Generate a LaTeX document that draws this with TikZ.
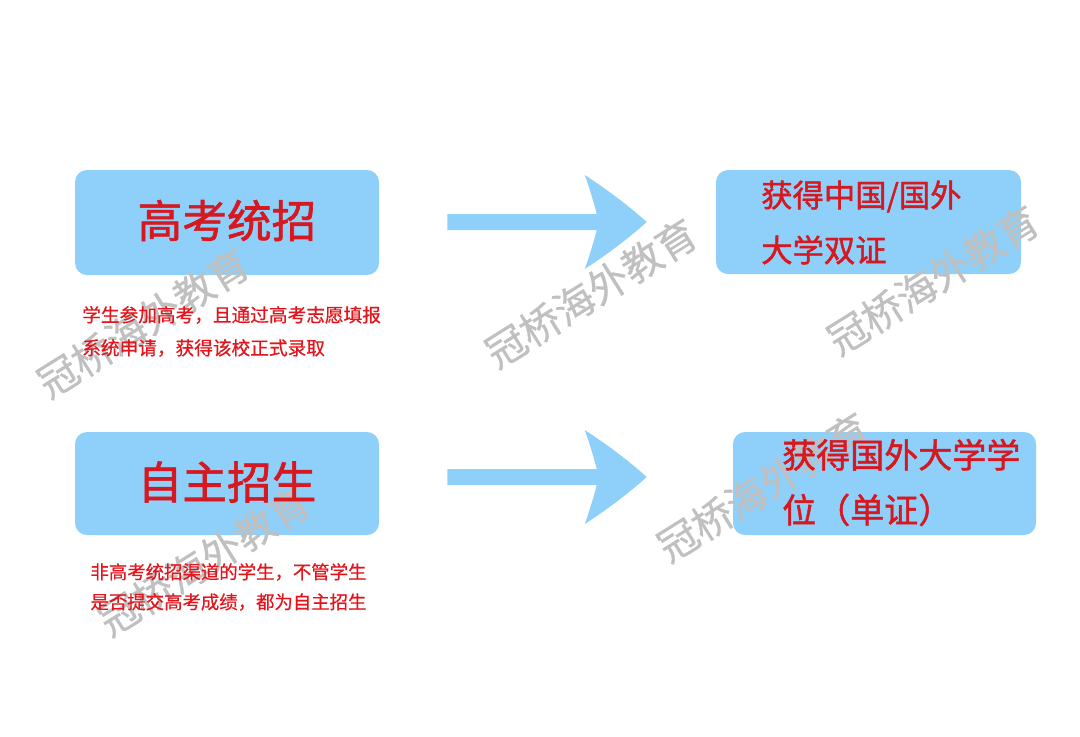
\documentclass[tikz,border=0pt]{standalone}
\usepackage{fontspec}
\setmainfont{Noto Sans CJK SC}
\newfontfamily\medfont[FakeBold=1.4]{Noto Sans CJK SC}
\newfontfamily\notefont[FakeBold=0.6]{Noto Sans CJK SC}
\usetikzlibrary{calc}
\definecolor{boxblue}{RGB}{142,208,250}
\definecolor{txtred}{RGB}{226,20,28}
\definecolor{titlered}{RGB}{214,24,32}
\definecolor{wmgray}{RGB}{192,192,192}
\newcommand\fatarrow[2]{%
  \fill[arrowfill] ($(#1)+(0,-8)$) -- ($(#2)+(-50,-8)$)
    .. controls ($(#2)+(-53,-20)$) and ($(#2)+(-58,-36)$) .. ($(#2)+(-62,-47)$)
    .. controls ($(#2)+(-42,-34)$) and ($(#2)+(-20,-18)$) .. (#2)
    .. controls ($(#2)+(-20,18)$) and ($(#2)+(-42,34)$) .. ($(#2)+(-62,47)$)
    .. controls ($(#2)+(-58,36)$) and ($(#2)+(-53,20)$) .. ($(#2)+(-50,8)$)
    -- ($(#1)+(0,8)$) -- cycle;}
\begin{document}
\begin{tikzpicture}[x=0.75pt,y=-0.75pt,
  box/.style={fill=boxblue, rounded corners=9pt, minimum width=228pt, minimum height=78.75pt, inner sep=0pt},
  title/.style={text=titlered, font=\medfont\fontsize{33.5}{40}\selectfont, inner sep=0pt},
  result/.style={text=titlered, align=left, anchor=west, inner sep=0pt},
  note/.style={text=txtred, inner sep=0pt},
  wm/.style={text=wmgray, rotate=32, font=\notefont\fontsize{30}{36}\selectfont, inner sep=0pt},
  arrowfill/.style={fill=boxblue}]
\useasboundingbox (0,0) rectangle (1080,736);

% boxes
\node[box] (b1) at (227,222.5) {};
\node[box, minimum width=228.75pt, minimum height=78pt] (b2) at (868.5,222) {};
\node[box, minimum width=227.25pt, minimum height=77.25pt] (b3) at (884.5,483.5) {};
\node[box, minimum height=77.25pt] (b4) at (227,483.5) {};

% arrows
\coordinate (a1s) at ($(b1.east)+(68,-0.5)$);
\coordinate (a1e) at ($(b2.west)+(-69,0)$);
\coordinate (a2s) at ($(b4.east)+(68,-6.5)$);
\coordinate (a2e) at ($(b3.west)+(-86,-6.5)$);
\fatarrow{a1s}{a1e}
\fatarrow{a2s}{a2e}

% watermarks
\node[wm] (w1) at (143,323) {冠桥海外教育};
\node[wm] (w2) at (591,293) {冠桥海外教育};
\node[wm] (w3) at (933,280) {冠桥海外教育};
\node[wm] (w4) at (204,561) {冠桥海外教育};
\node[wm] (w5) at (763,487) {冠桥海外教育};

% texts
\node[title] (t1) at ($(b1)+(0,-2)$) {高考统招};
\node[title] (t4) at ($(b4)+(0,-1.5)$) {自主招生};
\node[note, anchor=west, align=left, font=\notefont\fontsize{14}{24.75}\selectfont] (n1) at (82,331.5)
  {学生参加高考，且通过高考志愿填报\\系统申请，获得该校正式录取};
\node[note, align=center, font=\notefont\fontsize{13.8}{22.5}\selectfont] (n4) at (228.5,587)
  {非高考统招渠道的学生，不管学生\\是否提交高考成绩，都为自主招生};
\node[result, font=\medfont\fontsize{23.5}{41.25}\selectfont] (r2) at (761,222.5)
  {获得中国/国外\\大学双证};
\node[result, font=\medfont\fontsize{25.5}{41.25}\selectfont] (r3) at (782,482.5)
  {获得国外大学学\\位（单证）};
\end{tikzpicture}
\end{document}
